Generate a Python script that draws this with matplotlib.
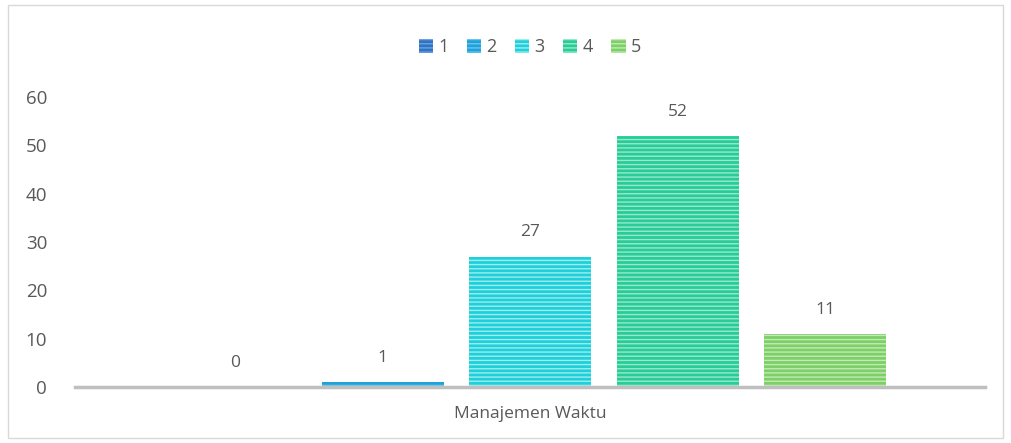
import numpy as np
import matplotlib.pyplot as plt
from matplotlib.patches import Rectangle


categories = ["Manajemen Waktu"]
series = ["1", "2", "3", "4", "5"]
values = [0, 1, 27, 52, 11]

colors = ["#2E73C4", "#1FA2DC", "#1DD0DA", "#27CC97", "#7DCF68"]
stripes = ["#6FA2DC", "#6CC4EA", "#A0ECEF", "#9AE8CC", "#C2EAB5"]
text_color = "#595959"

plt.rcParams["font.family"] = ["Open Sans", "DejaVu Sans"]

fig = plt.figure(figsize=(10.11, 4.43), dpi=100)
ax = fig.add_axes([75 / 1011, 56 / 443, 910 / 1011, 290 / 443])

# outer chart border
fig.patches.append(Rectangle(
    (8 / 1011, 5 / 443), 995 / 1011, 433 / 443,
    transform=fig.transFigure, fill=False,
    edgecolor="#D9D9D9", linewidth=1.0
))

# ---------------------------------------
# Bars
# ---------------------------------------

step = 147.5 / 910
width = 122 / 910
x = 0.5 + (np.arange(len(series)) - 2) * step

for i, (s, v) in enumerate(zip(series, values)):
    ax.bar(
        x[i], v,
        width=width,
        color=colors[i],
        edgecolor=stripes[i],
        hatch="----",
        linewidth=0,
        label=s
    )
    ax.text(
        x[i], v + 5,
        str(v),
        ha="center", va="center",
        fontsize=12.5, color=text_color
    )

ax.set_xlim(0, 1)
ax.set_ylim(0, 60)
ax.set_yticks(np.arange(0, 61, 10))
ax.set_xticks([0.5])
ax.set_xticklabels(categories, fontsize=12.5, color=text_color)

for sp in ["top", "right", "left"]:
    ax.spines[sp].set_visible(False)
ax.spines["bottom"].set_color("#BFBFBF")
ax.spines["bottom"].set_linewidth(2.5)

ax.tick_params(axis="both", length=0, colors=text_color)
ax.tick_params(axis="y", pad=20, labelsize=13.5)
ax.tick_params(axis="x", pad=14)

leg = ax.legend(
    loc="center",
    bbox_to_anchor=(0.5, (443 - 47 - 56) / 290),
    ncol=5,
    frameon=False,
    fontsize=13,
    handlelength=0.8,
    handleheight=0.8,
    handletextpad=0.3,
    columnspacing=1.0
)
for t in leg.get_texts():
    t.set_color(text_color)

plt.savefig("out.png", dpi=100)
